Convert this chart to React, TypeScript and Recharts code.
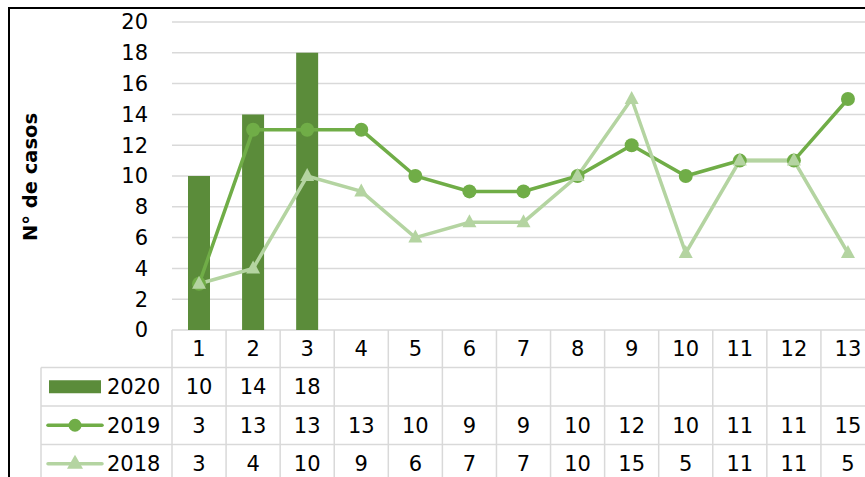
import React from "react";
import { ComposedChart, Bar, Line, XAxis, YAxis, CartesianGrid, Label } from "recharts";

// casos por mes (1..13)
const meses = ["1", "2", "3", "4", "5", "6", "7", "8", "9", "10", "11", "12", "13"];
const casos2020: (number | null)[] = [10, 14, 18, null, null, null, null, null, null, null, null, null, null];
const casos2019 = [3, 13, 13, 13, 10, 9, 9, 10, 12, 10, 11, 11, 15];
const casos2018 = [3, 4, 10, 9, 6, 7, 7, 10, 15, 5, 11, 11, 5];
const yTicks = [0, 2, 4, 6, 8, 10, 12, 14, 16, 18, 20];

const C2020 = "#5B8C3A";
const C2019 = "#70AD47";
const C2018 = "#B4D4A1";
const GRID = "#D9D9D9";
const FONT = "'DejaVu Sans', sans-serif";
const FS = 21;

const W = 900;
const H = 480;
const PLOT_LEFT = 164;
const PLOT_RIGHT = 867;
const PLOT_TOP = 15;
const PLOT_BOTTOM = 323;
const BAND = (PLOT_RIGHT - PLOT_LEFT) / meses.length;
const LEGEND_LEFT = 33;
// row edges of the data table, measured from the category axis
const ROWS = [0, 37.5, 76, 114.5, 153];

const data = meses.map((mes, i) => ({
  mes,
  a2020: casos2020[i],
  a2019: casos2019[i],
  a2018: casos2018[i],
}));

const tableRows = [
  { name: "2020", values: casos2020 },
  { name: "2019", values: casos2019 },
  { name: "2018", values: casos2018 },
];

function LegendKey({ row, y }: { row: number; y: number }) {
  const cy = y;
  if (row === 0) {
    return <rect x={41} y={cy - 6.5} width={52} height={13} fill={C2020} />;
  }
  if (row === 1) {
    return (
      <g>
        <line x1={40} x2={94} y1={cy} y2={cy} stroke={C2019} strokeWidth={3.5} strokeLinecap="round" />
        <circle cx={67} cy={cy} r={6.5} fill={C2019} />
      </g>
    );
  }
  return (
    <g>
      <line x1={40} x2={94} y1={cy} y2={cy} stroke={C2018} strokeWidth={3.5} strokeLinecap="round" />
      <polygon points={`67,${cy - 9} 59,${cy + 5} 75,${cy + 5}`} fill={C2018} />
    </g>
  );
}

// each x-axis tick draws one column of the data table
function TableColumn(props: any) {
  const { x, y, index, payload } = props;
  const left = x - BAND / 2;
  const right = x + BAND / 2;
  const last = index === meses.length - 1;
  const mid = (a: number, b: number) => y + (ROWS[a] + ROWS[b]) / 2;
  return (
    <g>
      <line x1={left} x2={left} y1={y} y2={y + ROWS[4]} stroke={GRID} strokeWidth={1.5} />
      {last && <line x1={right} x2={right} y1={y} y2={y + ROWS[4]} stroke={GRID} strokeWidth={1.5} />}
      {[1, 2, 3, 4].map((r) => (
        <line key={r} x1={left} x2={right} y1={y + ROWS[r]} y2={y + ROWS[r]} stroke={GRID} strokeWidth={1.5} />
      ))}
      <text x={x} y={mid(0, 1)} dy="0.36em" textAnchor="middle" fontSize={FS} fill="#000" fontFamily={FONT}>
        {payload.value}
      </text>
      {tableRows.map((row, r) => {
        const v = row.values[index];
        return v == null ? null : (
          <text key={row.name} x={x} y={mid(r + 1, r + 2)} dy="0.36em" textAnchor="middle" fontSize={FS} fill="#000" fontFamily={FONT}>
            {v}
          </text>
        );
      })}
      {index === 0 && (
        <g>
          <line x1={LEGEND_LEFT} x2={LEGEND_LEFT} y1={y + ROWS[1]} y2={y + ROWS[4]} stroke={GRID} strokeWidth={1.5} />
          {[1, 2, 3, 4].map((r) => (
            <line key={r} x1={LEGEND_LEFT} x2={left} y1={y + ROWS[r]} y2={y + ROWS[r]} stroke={GRID} strokeWidth={1.5} />
          ))}
          {tableRows.map((row, r) => (
            <g key={row.name}>
              <LegendKey row={r} y={mid(r + 1, r + 2)} />
              <text x={99} y={mid(r + 1, r + 2)} dy="0.36em" fontSize={FS} fill="#000" fontFamily={FONT}>
                {row.name}
              </text>
            </g>
          ))}
        </g>
      )}
    </g>
  );
}

function TriangleDot(props: any) {
  const { cx, cy, index } = props;
  if (cx == null || cy == null) return <g key={index} />;
  return <polygon key={index} points={`${cx},${cy - 8} ${cx - 7},${cy + 5} ${cx + 7},${cy + 5}`} fill={C2018} />;
}

function AxisTitle(props: any) {
  const vb = props.viewBox || { y: PLOT_TOP, height: PLOT_BOTTOM - PLOT_TOP };
  const cy = vb.y + vb.height / 2;
  return (
    <text
      transform={`translate(22, ${cy + 1}) rotate(-90)`}
      textAnchor="middle"
      dy="0.36em"
      fontSize={19.5}
      fontWeight="bold"
      fontFamily={FONT}
      fill="#000"
    >
      N° de casos
    </text>
  );
}

export default function App() {
  return (
    <div style={{ position: "fixed", left: 8, top: 7, width: 857, height: 470, overflow: "hidden", background: "#fff", fontFamily: FONT }}>
      <div
        style={{
          position: "absolute",
          left: 0,
          top: 0,
          width: 1000,
          height: 1000,
          borderLeft: "2px solid #000",
          borderTop: "2px solid #000",
          pointerEvents: "none",
        }}
      />
      <div style={{ position: "absolute", left: 0, top: 0 }}>
        <ComposedChart
          width={W}
          height={H}
          data={data}
          margin={{ top: PLOT_TOP, right: W - PLOT_RIGHT, left: 0, bottom: 0 }}
        >
          <CartesianGrid vertical={false} stroke={GRID} strokeWidth={1.5} />
          <XAxis
            dataKey="mes"
            height={H - PLOT_BOTTOM}
            axisLine={false}
            tickLine={false}
            tickSize={0}
            tickMargin={0}
            interval={0}
            tick={<TableColumn />}
          />
          <YAxis
            width={PLOT_LEFT}
            domain={[0, 20]}
            ticks={yTicks}
            axisLine={false}
            tickLine={false}
            tickSize={0}
            tickMargin={24}
            tick={{ fontSize: FS, fill: "#000", fontFamily: FONT }}
          >
            <Label content={<AxisTitle />} />
          </YAxis>
          <Bar dataKey="a2020" name="2020" fill={C2020} barSize={22} isAnimationActive={false} />
          <Line
            dataKey="a2019"
            name="2019"
            stroke={C2019}
            strokeWidth={3.5}
            dot={{ r: 7, fill: C2019, stroke: C2019, strokeWidth: 0 }}
            isAnimationActive={false}
          />
          <Line
            dataKey="a2018"
            name="2018"
            stroke={C2018}
            strokeWidth={3.5}
            dot={(p: any) => <TriangleDot key={p.index} {...p} />}
            isAnimationActive={false}
          />
        </ComposedChart>
      </div>
    </div>
  );
}
